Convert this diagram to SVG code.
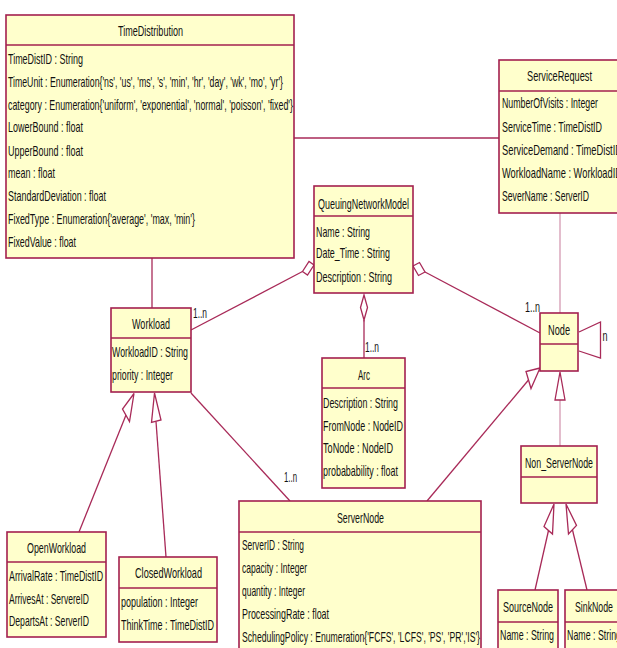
<svg xmlns="http://www.w3.org/2000/svg" width="617" height="648" viewBox="0 0 617 648">
<style>
.box{fill:#FFFFCC;stroke:#A3204F;stroke-width:1.6}
.hd{stroke:#A3204F;stroke-width:1.6}
.t{font-family:"Liberation Sans",Arial,sans-serif;font-size:14.8px;fill:#111111}
.c{fill:none;stroke:#A82A58;stroke-width:1.3}
.cl{fill:none;stroke:#D49AB2;stroke-width:1.3}
.h{fill:#ffffff;stroke:#A82A58;stroke-width:1.3}
</style>
<rect width="617" height="648" fill="#ffffff"/>
<g id="connectors">
  <line class="c" x1="294" y1="138" x2="499" y2="138"/>
  <line class="c" x1="152" y1="258" x2="152" y2="308"/>
  <line class="cl" x1="560" y1="213" x2="560" y2="313"/>
  <line class="c" x1="191" y1="330" x2="302.5" y2="271.5"/>
  <polygon class="h" points="302.5,271.5 307.5,275 314,265 309,261.5"/>
  <line class="c" x1="540" y1="333" x2="425" y2="272"/>
  <polygon class="h" points="425,272 418.5,275.5 413,266 419.5,262.5"/>
  <line class="c" x1="364" y1="320" x2="364" y2="358"/>
  <polygon class="h" points="364,295 367.5,307.5 364,320 360.5,307.5"/>
  <line class="c" x1="191" y1="393" x2="290" y2="501"/>
  <line class="c" x1="427" y1="501" x2="528.5" y2="380"/>
  <polygon class="h" points="540,368 526,371.5 531,388.5"/>
  <line class="cl" x1="560" y1="446" x2="560" y2="400"/>
  <polygon class="h" points="560,372 555,400 565,400"/>
  <line class="c" x1="79" y1="532" x2="126" y2="415"/>
  <polygon class="h" points="134,393.5 122.5,409 129.5,421.5"/>
  <line class="c" x1="166" y1="557" x2="156" y2="421.5"/>
  <polygon class="h" points="154.5,393 151.5,422.5 161,420"/>
  <line class="c" x1="535" y1="590" x2="548.5" y2="530.5"/>
  <polygon class="h" points="554,504 544,526.5 552.5,534"/>
  <line class="c" x1="587" y1="590" x2="572.5" y2="530"/>
  <polygon class="h" points="566,504 576.5,525.5 568.5,534"/>
  <polyline class="c" points="579,332 600.5,322 600.5,358 579,351"/>
  <text class="t" x="193" y="318" textLength="14" lengthAdjust="spacingAndGlyphs">1..n</text>
  <text class="t" x="365" y="352" textLength="14" lengthAdjust="spacingAndGlyphs">1..n</text>
  <text class="t" x="284" y="482" textLength="13" lengthAdjust="spacingAndGlyphs">1..n</text>
  <text class="t" x="525" y="312" textLength="15" lengthAdjust="spacingAndGlyphs">1..n</text>
  <text class="t" x="602.5" y="341" textLength="5" lengthAdjust="spacingAndGlyphs">n</text>
</g>
<g id="TimeDistribution">
  <rect class="box" x="6" y="15" width="288" height="243"/>
  <line class="hd" x1="6" y1="45" x2="294" y2="45"/>
  <text class="t" x="118" y="36" textLength="65" lengthAdjust="spacingAndGlyphs">TimeDistribution</text>
  <text class="t" x="8" y="64" textLength="75" lengthAdjust="spacingAndGlyphs">TimeDistID : String</text>
  <text class="t" x="8" y="87" textLength="275" lengthAdjust="spacingAndGlyphs">TimeUnit : Enumeration{'ns', 'us', 'ms', 's', 'min', 'hr', 'day', 'wk', 'mo', 'yr'}</text>
  <text class="t" x="8" y="110" textLength="285" lengthAdjust="spacingAndGlyphs">category : Enumeration{'uniform', 'exponential', 'normal', 'poisson', 'fixed'}</text>
  <text class="t" x="8" y="132" textLength="75" lengthAdjust="spacingAndGlyphs">LowerBound : float</text>
  <text class="t" x="8" y="156" textLength="75" lengthAdjust="spacingAndGlyphs">UpperBound : float</text>
  <text class="t" x="8" y="178" textLength="47" lengthAdjust="spacingAndGlyphs">mean : float</text>
  <text class="t" x="8" y="201" textLength="98" lengthAdjust="spacingAndGlyphs">StandardDeviation : float</text>
  <text class="t" x="8" y="224" textLength="187" lengthAdjust="spacingAndGlyphs">FixedType : Enumeration{'average', 'max, 'min'}</text>
  <text class="t" x="8" y="247" textLength="68" lengthAdjust="spacingAndGlyphs">FixedValue : float</text>
</g>
<g id="ServiceRequest">
  <rect class="box" x="499" y="60" width="123" height="153"/>
  <line class="hd" x1="499" y1="91" x2="622" y2="91"/>
  <text class="t" x="527" y="81" textLength="65" lengthAdjust="spacingAndGlyphs">ServiceRequest</text>
  <text class="t" x="502" y="108" textLength="96" lengthAdjust="spacingAndGlyphs">NumberOfVisits : Integer</text>
  <text class="t" x="502" y="132" textLength="100" lengthAdjust="spacingAndGlyphs">ServiceTime : TimeDistID</text>
  <text class="t" x="502" y="155" textLength="120" lengthAdjust="spacingAndGlyphs">ServiceDemand : TimeDistID</text>
  <text class="t" x="502" y="178" textLength="120" lengthAdjust="spacingAndGlyphs">WorkloadName : WorkloadID</text>
  <text class="t" x="502" y="201" textLength="87" lengthAdjust="spacingAndGlyphs">SeverName : ServerID</text>
</g>
<g id="QueuingNetworkModel">
  <rect class="box" x="314" y="186" width="99" height="107"/>
  <line class="hd" x1="314" y1="216" x2="413" y2="216"/>
  <text class="t" x="318" y="209" textLength="91" lengthAdjust="spacingAndGlyphs">QueuingNetworkModel</text>
  <text class="t" x="316" y="237" textLength="54" lengthAdjust="spacingAndGlyphs">Name : String</text>
  <text class="t" x="316" y="258" textLength="74" lengthAdjust="spacingAndGlyphs">Date_Time : String</text>
  <text class="t" x="316" y="282" textLength="76" lengthAdjust="spacingAndGlyphs">Description : String</text>
</g>
<g id="Workload">
  <rect class="box" x="111" y="308" width="80" height="84"/>
  <line class="hd" x1="111" y1="338" x2="191" y2="338"/>
  <text class="t" x="132" y="329" textLength="38" lengthAdjust="spacingAndGlyphs">Workload</text>
  <text class="t" x="112" y="357" textLength="76" lengthAdjust="spacingAndGlyphs">WorkloadID : String</text>
  <text class="t" x="112" y="380" textLength="61" lengthAdjust="spacingAndGlyphs">priority : Integer</text>
</g>
<g id="Arc">
  <rect class="box" x="322" y="358" width="83" height="130"/>
  <line class="hd" x1="322" y1="388" x2="405" y2="388"/>
  <text class="t" x="358" y="380" textLength="12" lengthAdjust="spacingAndGlyphs">Arc</text>
  <text class="t" x="323" y="408" textLength="75" lengthAdjust="spacingAndGlyphs">Description : String</text>
  <text class="t" x="323" y="431" textLength="80" lengthAdjust="spacingAndGlyphs">FromNode : NodeID</text>
  <text class="t" x="323" y="453" textLength="70" lengthAdjust="spacingAndGlyphs">ToNode : NodeID</text>
  <text class="t" x="323" y="476" textLength="75" lengthAdjust="spacingAndGlyphs">probabability : float</text>
</g>
<g id="Node">
  <rect class="box" x="540" y="313" width="38" height="58"/>
  <line class="hd" x1="540" y1="344" x2="578" y2="344"/>
  <text class="t" x="548" y="335" textLength="22" lengthAdjust="spacingAndGlyphs">Node</text>
</g>
<g id="Non_ServerNode">
  <rect class="box" x="521" y="446" width="76" height="57"/>
  <line class="hd" x1="521" y1="477" x2="597" y2="477"/>
  <text class="t" x="525" y="468" textLength="68" lengthAdjust="spacingAndGlyphs">Non_ServerNode</text>
</g>
<g id="OpenWorkload">
  <rect class="box" x="7" y="532" width="99" height="105"/>
  <line class="hd" x1="7" y1="562" x2="106" y2="562"/>
  <text class="t" x="27" y="553" textLength="59" lengthAdjust="spacingAndGlyphs">OpenWorkload</text>
  <text class="t" x="9" y="581" textLength="94" lengthAdjust="spacingAndGlyphs">ArrivalRate : TimeDistID</text>
  <text class="t" x="9" y="604" textLength="80" lengthAdjust="spacingAndGlyphs">ArrivesAt : ServereID</text>
  <text class="t" x="9" y="626" textLength="80" lengthAdjust="spacingAndGlyphs">DepartsAt : ServerID</text>
</g>
<g id="ClosedWorkload">
  <rect class="box" x="119" y="557" width="98" height="85"/>
  <line class="hd" x1="119" y1="588" x2="217" y2="588"/>
  <text class="t" x="135" y="578" textLength="67" lengthAdjust="spacingAndGlyphs">ClosedWorkload</text>
  <text class="t" x="121" y="607" textLength="77" lengthAdjust="spacingAndGlyphs">population : Integer</text>
  <text class="t" x="121" y="630" textLength="93" lengthAdjust="spacingAndGlyphs">ThinkTime : TimeDistID</text>
</g>
<g id="ServerNode">
  <rect class="box" x="239" y="501" width="242" height="160"/>
  <line class="hd" x1="239" y1="532" x2="481" y2="532"/>
  <text class="t" x="337" y="523" textLength="47" lengthAdjust="spacingAndGlyphs">ServerNode</text>
  <text class="t" x="242" y="550" textLength="62" lengthAdjust="spacingAndGlyphs">ServerID : String</text>
  <text class="t" x="242" y="573" textLength="65" lengthAdjust="spacingAndGlyphs">capacity : Integer</text>
  <text class="t" x="242" y="596" textLength="63" lengthAdjust="spacingAndGlyphs">quantity : Integer</text>
  <text class="t" x="242" y="619" textLength="87" lengthAdjust="spacingAndGlyphs">ProcessingRate : float</text>
  <text class="t" x="242" y="642" textLength="238" lengthAdjust="spacingAndGlyphs">SchedulingPolicy : Enumeration{'FCFS', 'LCFS', 'PS', 'PR','IS'}</text>
</g>
<g id="SourceNode">
  <rect class="box" x="498" y="590" width="60" height="70"/>
  <line class="hd" x1="498" y1="622" x2="558" y2="622"/>
  <text class="t" x="503" y="612" textLength="50" lengthAdjust="spacingAndGlyphs">SourceNode</text>
  <text class="t" x="500" y="640" textLength="54" lengthAdjust="spacingAndGlyphs">Name : String</text>
</g>
<g id="SinkNode">
  <rect class="box" x="565" y="590" width="60" height="70"/>
  <line class="hd" x1="565" y1="622" x2="625" y2="622"/>
  <text class="t" x="575" y="612" textLength="38" lengthAdjust="spacingAndGlyphs">SinkNode</text>
  <text class="t" x="567" y="640" textLength="54" lengthAdjust="spacingAndGlyphs">Name : String</text>
</g>
</svg>
